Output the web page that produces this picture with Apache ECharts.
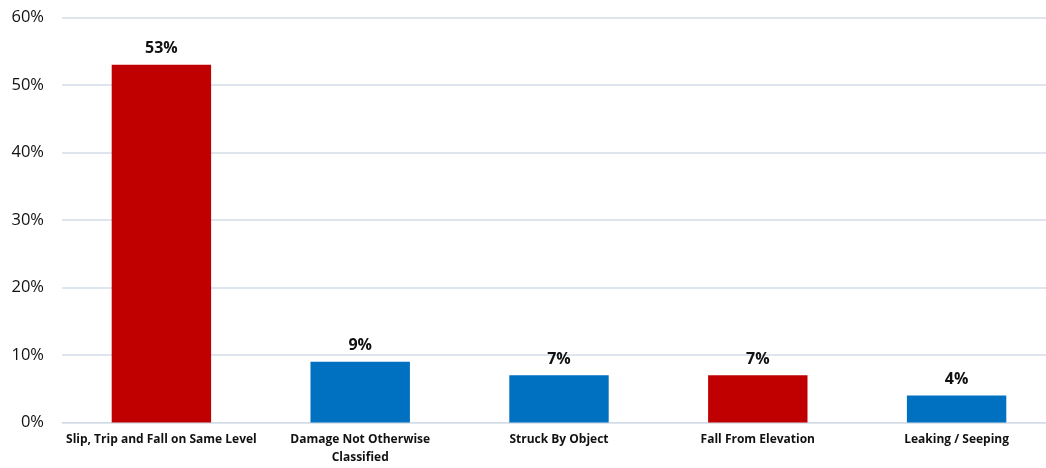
<!DOCTYPE html>
<html><head><meta charset="utf-8">
<script src="https://cdn.jsdelivr.net/npm/echarts@6/dist/echarts.min.js"></script>
<style>html,body{margin:0;padding:0;background:#fff;overflow:hidden;width:1046px;height:468px}#c{width:1056px;height:468px}</style>
</head><body><div id="c"></div>
<script>
const categories = ["Slip, Trip and Fall on Same Level", "Damage Not Otherwise\nClassified", "Struck By Object", "Fall From Elevation", "Leaking / Seeping"];
const values = [53, 9, 7, 7, 4];
const barColors = ["#C00000", "#0070C0", "#0070C0", "#C00000", "#0070C0"];
const yTicks = {min: 0, max: 60, interval: 10};

const chart = echarts.init(document.getElementById('c'));
chart.setOption({
  animation: false,
  grid: {left: 62, top: 17.5, right: 0, height: 405, containLabel: false},
  xAxis: {
    type: 'category', data: categories,
    axisLine: {show: true, lineStyle: {color: '#D3DCE6', width: 1}},
    axisTick: {show: false},
    axisLabel: {interval: 0, color: '#111', fontFamily: 'Open Sans', fontWeight: 'bold', fontSize: 12, lineHeight: 18, margin: 8}
  },
  yAxis: {
    type: 'value', min: yTicks.min, max: yTicks.max, interval: yTicks.interval,
    axisLine: {show: false}, axisTick: {show: false},
    splitLine: {lineStyle: {color: '#D3DCE6', width: 1.5}},
    axisLabel: {formatter: v => v + '%', color: '#111', fontFamily: 'Open Sans', fontSize: 16.5, margin: 18}
  },
  series: [{
    type: 'bar', barWidth: '50%',
    data: values.map((v, i) => ({value: v, itemStyle: {color: barColors[i]}})),
    label: {show: true, position: 'top', distance: 8, formatter: p => p.value + '%', color: '#111', fontFamily: 'Open Sans', fontWeight: 'bold', fontSize: 16}
  }]
});
</script></body></html>
